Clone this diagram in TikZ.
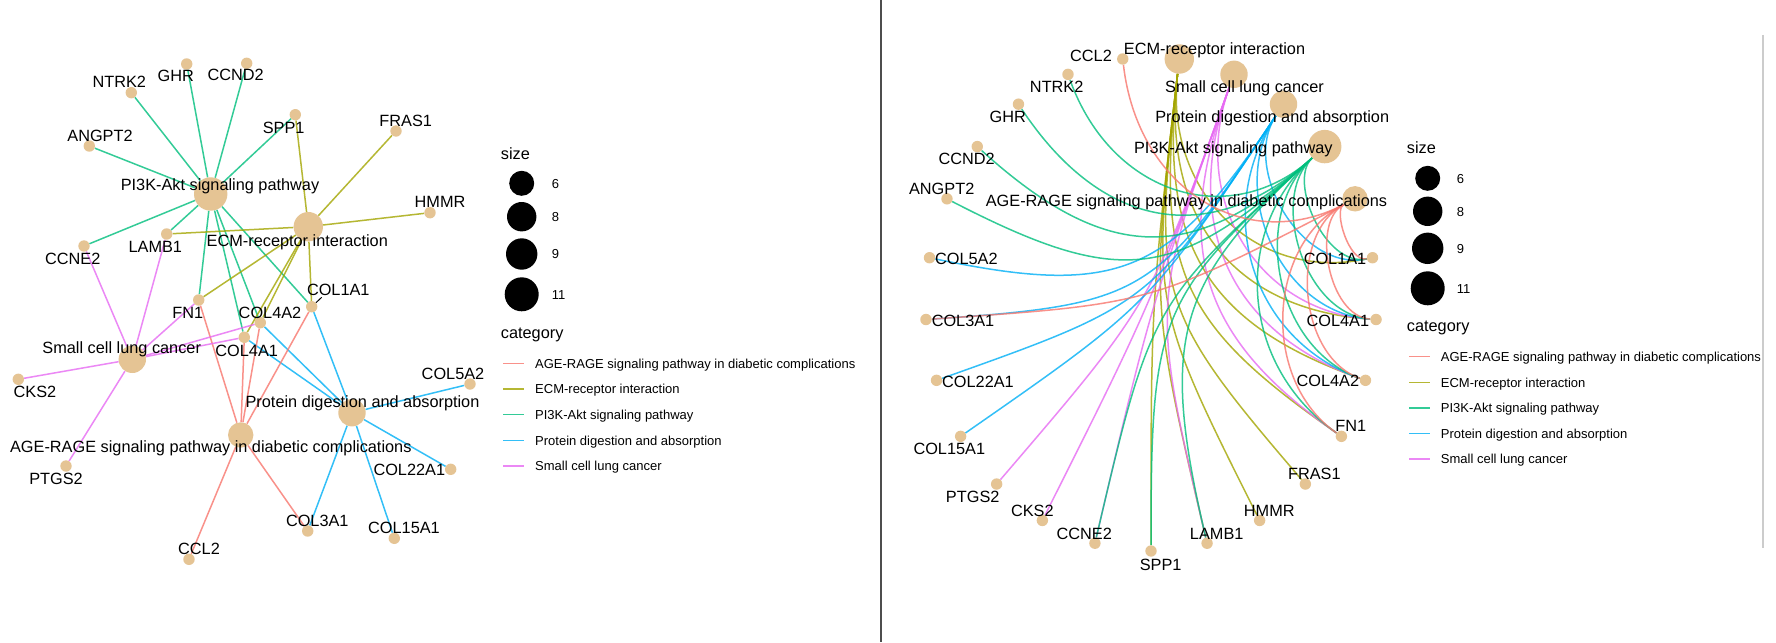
\documentclass[tikz,border=0pt]{standalone}
\usepackage{fontspec}
\setmainfont{Liberation Sans}
\usepackage{tikz}
\usetikzlibrary{calc}
\usetikzlibrary{backgrounds}
\definecolor{node-tan}{HTML}{E5C494}
\definecolor{cat-age}{HTML}{F8766D}
\definecolor{cat-ecm}{HTML}{A3A500}
\definecolor{cat-pik}{HTML}{00BF7D}
\definecolor{cat-pro}{HTML}{00B0F6}
\definecolor{cat-sclc}{HTML}{E76BF3}
\definecolor{frame-gray}{HTML}{4D4D4D}
\definecolor{edge-gray}{HTML}{CCCCCC}

\tikzset{
  gene/.style={circle, fill=node-tan, inner sep=0pt, minimum size=11.4pt},
  term/.style={circle, fill=node-tan, inner sep=0pt, minimum size=#1},
  lbl/.style={anchor=base, inner sep=0pt, font=\fontsize{16.3}{19}\selectfont},
  keytitle/.style={anchor=base west, inner sep=0pt, font=\fontsize{16.3}{19}\selectfont},
  keytext/.style={anchor=base west, inner sep=0pt, font=\fontsize{13}{15}\selectfont},
  keydot/.style={circle, fill=black, inner sep=0pt, minimum size=#1},
  link/.style={line width=1.5pt, draw opacity=0.8, draw=#1},
}

\begin{document}
\begin{tikzpicture}[x=1pt, y=-1pt]
  \useasboundingbox (0,0) rectangle (1776,642);

  % ---- left: network layout
  \node[term=33.4pt] (lPI3K) at (210.7,194) {};
  \node[term=29.4pt] (lECM) at (308.3,226.7) {};
  \node[term=27.4pt] (lSCLC) at (132.3,359.3) {};
  \node[term=27.4pt] (lPRO) at (352,412.7) {};
  \node[term=25.4pt] (lAGE) at (240.7,435) {};
  \foreach \g/\x/\y in {GHR/186.7/64, CCND2/246.7/63.3, NTRK2/131.3/92.7, ANGPT2/89.3/146,
      SPP1/295.3/114.7, FRAS1/396/131, HMMR/430/212.7, LAMB1/166.7/234, CCNE2/84/246,
      COL1A1/311.7/306.7, FN1/198.7/300, COL4A2/260.3/322.7, COL4A1/244.3/337.3,
      CKS2/18.3/379.3, COL5A2/470/384, PTGS2/66/466, COL22A1/450.7/469.3,
      COL3A1/307.7/531, COL15A1/394.3/538.3, CCL2/189/559.3}
    \node[gene] (l\g) at (\x,\y) {};

  \node[lbl] (tlPI3K) at (220,190) {PI3K-Akt signaling pathway};
  \node[lbl] (tlECM) at (297.3,246) {ECM-receptor interaction};
  \node[lbl] (tlSCLC) at (121.7,353.7) {Small cell lung cancer};
  \node[lbl] (tlPRO) at (362.5,407.7) {Protein digestion and absorption};
  \node[lbl] (tlAGE) at (210.8,452.7) {AGE-RAGE signaling pathway in diabetic complications};
  \foreach \g/\x/\y in {GHR/175.7/81.7, CCND2/235.7/81, NTRK2/119.3/87.7, ANGPT2/100/141,
      SPP1/283.7/133.3, FRAS1/405.7/126.7, HMMR/440/207.7, LAMB1/155.3/252.7,
      CCNE2/72.7/264.3, COL1A1/338.3/295.3, FN1/187.7/318.7, COL4A2/270/318,
      COL4A1/246.7/356, CKS2/35/397.7, COL5A2/453/379, PTGS2/56/484.7,
      COL22A1/409.3/475.3, COL3A1/317.3/526, COL15A1/404/533.3, CCL2/199/554.3}
    \node[lbl] (tl\g) at (\x,\y) {\g};
  \coordinate (tickCOL1A1) at (321.7,297.3);
  \draw[line width=1pt] (tickCOL1A1) -- (lCOL1A1);

  % ---- right: circular layout
  \coordinate (ctr) at (1151,304);
  \node[term=29.4pt] (rECM) at (1179.3,59) {};
  \node[term=27.4pt] (rSCLC) at (1234,74.3) {};
  \node[term=27.4pt] (rPRO) at (1283.5,104.2) {};
  \node[term=33.4pt] (rPI3K) at (1324.7,146.6) {};
  \node[term=25.4pt] (rAGE) at (1355,198.8) {};
  \foreach \g/\k in {COL1A1/5, COL4A1/6, COL4A2/7, FN1/8, FRAS1/9, HMMR/10, LAMB1/11,
      SPP1/12, CCNE2/13, CKS2/14, PTGS2/15, COL15A1/16, COL22A1/17, COL3A1/18,
      COL5A2/19, ANGPT2/20, CCND2/21, GHR/22, NTRK2/23, CCL2/24}
    \node[gene] (r\g) at ({1151+225.5*sin(7.2+14.4*\k)}, {304-247*cos(7.2+14.4*\k)}) {};

  \node[lbl] (trECM) at (1214.5,54.3) {ECM-receptor interaction};
  \node[lbl] (trSCLC) at (1244.5,92.7) {Small cell lung cancer};
  \node[lbl] (trPRO) at (1272.2,122) {Protein digestion and absorption};
  \node[lbl] (trPI3K) at (1233.3,153.3) {PI3K-Akt signaling pathway};
  \node[lbl] (trAGE) at (1186.5,206.7) {AGE-RAGE signaling pathway in diabetic complications};
  \foreach \g/\x/\y in {CCL2/1091/61, NTRK2/1056.7/92.7, GHR/1007.7/122.7, CCND2/966.7/164.3,
      ANGPT2/941.7/194.3, COL5A2/966.3/264, COL3A1/963/326, COL22A1/978/387.7,
      COL15A1/949.3/454.3, PTGS2/972.7/502.7, CKS2/1032.3/516, CCNE2/1084.3/539.3,
      SPP1/1160.7/570, LAMB1/1216.7/539.3, HMMR/1269.3/516, FRAS1/1314.3/479.3,
      FN1/1350.8/431.7, COL4A2/1327.8/386, COL4A1/1337.8/326.7, COL1A1/1335/264.3}
    \node[lbl] (tr\g) at (\x,\y) {\g};

  % ---- edges, under the nodes
  \begin{scope}[on background layer]
    \fill[white] (0,0) rectangle (1776,642);
    \foreach \g in {NTRK2,GHR,CCND2,ANGPT2,SPP1,CCNE2,LAMB1,FN1,COL4A2,COL4A1,COL1A1}
      \draw[link=cat-pik] (lPI3K) -- (l\g);
    \foreach \g in {SPP1,FRAS1,HMMR,LAMB1,FN1,COL4A2,COL4A1,COL1A1}
      \draw[link=cat-ecm] (lECM) -- (l\g);
    \foreach \g in {COL1A1,COL4A2,COL4A1,COL5A2,COL22A1,COL3A1,COL15A1}
      \draw[link=cat-pro] (lPRO) -- (l\g);
    \foreach \g in {FN1,COL4A1,COL4A2,COL1A1,CCL2,COL3A1}
      \draw[link=cat-age] (lAGE) -- (l\g);
    \foreach \g in {CCNE2,LAMB1,FN1,COL4A2,COL4A1,CKS2,PTGS2}
      \draw[link=cat-sclc] (lSCLC) -- (l\g);

    % arcs bend toward the centre, more for far-apart nodes
    \foreach \g/\k in {SPP1/12,FRAS1/9,HMMR/10,LAMB1/11,FN1/8,COL4A2/7,COL4A1/6,COL1A1/5} {
      \pgfmathsetmacro\pull{min(1,0.107*min(abs(\k-0),25-abs(\k-0)))}
      \draw[link=cat-ecm] (rECM) .. controls ($(rECM)!\pull!(ctr)$) and ($(r\g)!\pull!(ctr)$) .. (r\g);
    }
    \foreach \g/\k in {CCNE2/13,LAMB1/11,FN1/8,COL4A2/7,COL4A1/6,CKS2/14,PTGS2/15} {
      \pgfmathsetmacro\pull{min(1,0.107*min(abs(\k-1),25-abs(\k-1)))}
      \draw[link=cat-sclc] (rSCLC) .. controls ($(rSCLC)!\pull!(ctr)$) and ($(r\g)!\pull!(ctr)$) .. (r\g);
    }
    \foreach \g/\k in {COL1A1/5,COL4A2/7,COL4A1/6,COL5A2/19,COL22A1/17,COL3A1/18,COL15A1/16} {
      \pgfmathsetmacro\pull{min(1,0.107*min(abs(\k-2),25-abs(\k-2)))}
      \draw[link=cat-pro] (rPRO) .. controls ($(rPRO)!\pull!(ctr)$) and ($(r\g)!\pull!(ctr)$) .. (r\g);
    }
    \foreach \g/\k in {NTRK2/23,GHR/22,CCND2/21,ANGPT2/20,SPP1/12,CCNE2/13,LAMB1/11,FN1/8,COL4A2/7,COL4A1/6,COL1A1/5} {
      \pgfmathsetmacro\pull{min(1,0.107*min(abs(\k-3),25-abs(\k-3)))}
      \draw[link=cat-pik] (rPI3K) .. controls ($(rPI3K)!\pull!(ctr)$) and ($(r\g)!\pull!(ctr)$) .. (r\g);
    }
    \foreach \g/\k in {FN1/8,COL4A1/6,COL4A2/7,COL1A1/5,CCL2/24,COL3A1/18} {
      \pgfmathsetmacro\pull{min(1,0.107*min(abs(\k-4),25-abs(\k-4)))}
      \draw[link=cat-age] (rAGE) .. controls ($(rAGE)!\pull!(ctr)$) and ($(r\g)!\pull!(ctr)$) .. (r\g);
    }
  \end{scope}

  % ---- legends
  \node[keytitle] (lsize) at (500.7,159.3) {size};
  \node[keytitle] (rsize) at (1406.7,153.7) {size};
  \foreach \y/\d/\v in {183.3/25pt/6, 216.7/29.4pt/8, 254/31.4pt/9, 294.3/34pt/11} {
    \node[keydot=\d] (ldot\v) at (521.7,\y) {};
    \node[keytext] (lnum\v) at (551.7,\y+4.7) {\v};
  }
  \foreach \y/\d/\v in {178.3/25pt/6, 211.3/29.4pt/8, 248.3/31.4pt/9, 288.3/34pt/11} {
    \node[keydot=\d] (rdot\v) at (1427.7,\y) {};
    \node[keytext] (rnum\v) at (1456.7,\y+4.7) {\v};
  }
  \node[keytitle] (lcat) at (500.7,338.3) {category};
  \node[keytitle] (rcat) at (1406.7,331.6) {category};
  \foreach \c/\t [count=\i] in {cat-age/AGE-RAGE signaling pathway in diabetic complications,
      cat-ecm/ECM-receptor interaction, cat-pik/PI3K-Akt signaling pathway,
      cat-pro/Protein digestion and absorption, cat-sclc/Small cell lung cancer} {
    \draw[link=\c] (503.3,{337.6+25.7*\i}) -- ++(20.7,0);
    \node[keytext] (lkey\i) at (535,{342.3+25.7*\i}) {\t};
    \draw[link=\c] (1409.3,{331.1+25.6*\i}) -- ++(20.7,0);
    \node[keytext] (rkey\i) at (1440.7,{335.8+25.6*\i}) {\t};
  }

  % ---- panel divider and cut-off edge on the right
  \draw[frame-gray, line width=2pt] (881,0) -- (881,642);
  \draw[edge-gray, line width=2.5pt] (1763,35) -- (1763,548);
\end{tikzpicture}
\end{document}
